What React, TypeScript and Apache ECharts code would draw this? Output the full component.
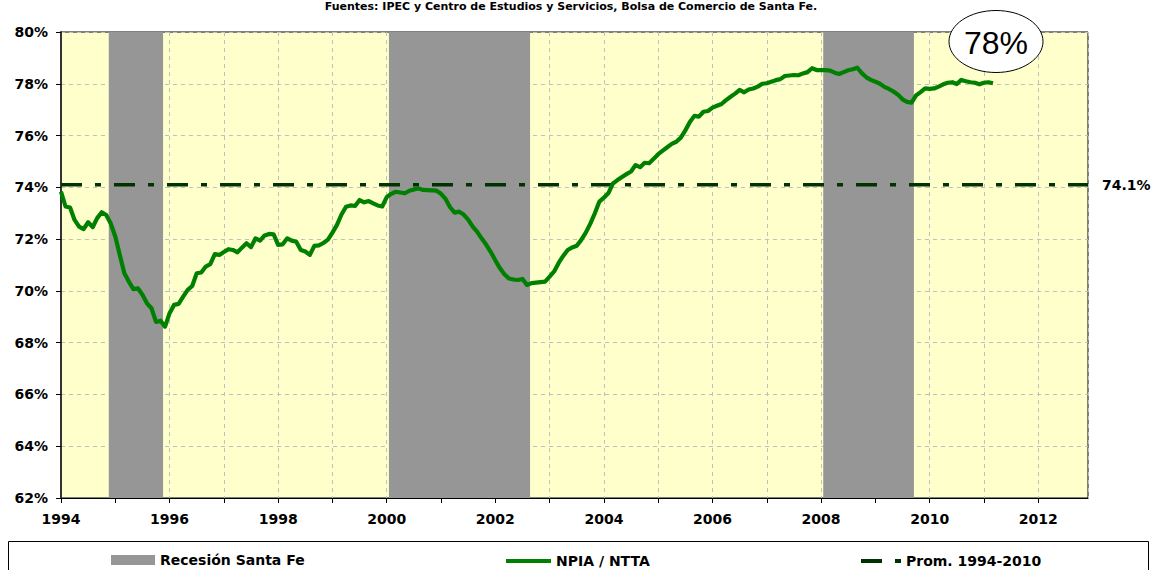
import React, { useEffect, useRef } from "react";
import * as echarts from "echarts";

// ---------- data ----------
const sourceNote =
  "Fuentes: IPEC y Centro de Estudios y Servicios, Bolsa de Comercio de Santa Fe.";
const seriesStartYear = 1994; // monthly series starting January 1994
const axisStartYear = 1994;
const axisEndYear = 1994 + 227 / 12; // December 2012
const yMin = 62;
const yMax = 80;
const yStep = 2;

const recessionStarts = [1994.88, 2000.04, 2008.04];
const recessionEnds = [1995.88, 2002.64, 2009.71];

const averageValue = 74.1;
const annotationText = "78%";

const npia1994 = [73.83, 73.26, 73.22, 72.74, 72.48, 72.39, 72.65, 72.46, 72.81, 73.04, 72.93, 72.6];
const npia1995 = [72.1, 71.39, 70.68, 70.36, 70.07, 70.1, 69.85, 69.52, 69.33, 68.8, 68.85, 68.62];
const npia1996 = [69.14, 69.46, 69.5, 69.78, 70.04, 70.19, 70.68, 70.71, 70.94, 71.03, 71.42, 71.39];
const npia1997 = [71.5, 71.61, 71.58, 71.49, 71.67, 71.84, 71.69, 72.03, 71.94, 72.14, 72.2, 72.18];
const npia1998 = [71.78, 71.8, 72.03, 71.94, 71.9, 71.58, 71.52, 71.39, 71.74, 71.76, 71.85, 71.98];
const npia1999 = [72.25, 72.55, 72.95, 73.25, 73.3, 73.28, 73.51, 73.42, 73.47, 73.38, 73.3, 73.26];
const npia2000 = [73.62, 73.75, 73.83, 73.8, 73.77, 73.87, 73.92, 73.96, 73.9, 73.89, 73.88, 73.87];
const npia2001 = [73.75, 73.55, 73.23, 73.02, 73.06, 72.95, 72.75, 72.48, 72.28, 72.02, 71.78, 71.5];
const npia2002 = [71.18, 70.88, 70.64, 70.48, 70.44, 70.42, 70.46, 70.23, 70.3, 70.32, 70.34, 70.36];
const npia2003 = [70.55, 70.75, 71.08, 71.35, 71.58, 71.68, 71.74, 71.97, 72.25, 72.6, 73.0, 73.45];
const npia2004 = [73.6, 73.78, 74.15, 74.28, 74.4, 74.51, 74.61, 74.86, 74.78, 74.95, 74.93, 75.1];
const npia2005 = [75.28, 75.42, 75.55, 75.68, 75.76, 75.92, 76.2, 76.52, 76.76, 76.73, 76.92, 76.95];
const npia2006 = [77.08, 77.15, 77.22, 77.37, 77.5, 77.62, 77.76, 77.67, 77.78, 77.82, 77.89, 78.0];
const npia2007 = [78.02, 78.08, 78.14, 78.18, 78.3, 78.32, 78.34, 78.33, 78.4, 78.45, 78.6, 78.53];
const npia2008 = [78.53, 78.53, 78.51, 78.43, 78.38, 78.45, 78.52, 78.56, 78.62, 78.41, 78.25, 78.15];
const npia2009 = [78.08, 78.0, 77.88, 77.8, 77.7, 77.58, 77.4, 77.3, 77.27, 77.55, 77.68, 77.82];
const npia2010 = [77.8, 77.82, 77.89, 77.98, 78.04, 78.06, 77.99, 78.15, 78.1, 78.06, 78.04, 77.98];
const npia2011 = [78.04, 78.06, 78.02];

const npiaValues = [
  ...npia1994, ...npia1995, ...npia1996, ...npia1997, ...npia1998, ...npia1999,
  ...npia2000, ...npia2001, ...npia2002, ...npia2003, ...npia2004, ...npia2005,
  ...npia2006, ...npia2007, ...npia2008, ...npia2009, ...npia2010, ...npia2011,
];

const seriesNames = ["Recesión Santa Fe", "NPIA / NTTA", "Prom. 1994-2010"];

// ---------- styles ----------
const FONT = "DejaVu Sans";
const GREEN = "#008000";
const DARK_GREEN = "#003300";
const GRAY = "#969696";

export default function App() {
  const ref = useRef<HTMLDivElement>(null);

  useEffect(() => {
    if (!ref.current) return;
    const chart = echarts.init(ref.current, null, { renderer: "svg" });

    const npiaData = npiaValues.map((v, i) => [seriesStartYear + i / 12, v]);
    const recessionAreas = recessionStarts.map((s, i) => [
      { xAxis: s },
      { xAxis: recessionEnds[i] },
    ]);

    const legendText = {
      fontFamily: FONT,
      fontWeight: "bold" as const,
      fontSize: 14,
      color: "#000",
    };

    const option: any = {
      animation: false,
      grid: {
        left: 61,
        top: 32,
        width: 1027,
        height: 466,
        show: true,
        backgroundColor: "#FFFFCC",
        borderColor: "#000",
        borderWidth: 1,
      },
      xAxis: {
        type: "value",
        min: axisStartYear,
        max: axisEndYear,
        interval: 1,
        axisLine: { show: true, onZero: false, lineStyle: { color: "#000", width: 1 } },
        axisTick: { show: true, inside: false, length: 5, lineStyle: { color: "#000" } },
        axisLabel: {
          show: true,
          margin: 14,
          showMaxLabel: false,
          fontFamily: FONT,
          fontWeight: "bold",
          fontSize: 14,
          color: "#000",
          formatter: (v: number) =>
            Math.abs(v - Math.round(v)) < 1e-6 && Math.round(v) % 2 === 0
              ? String(Math.round(v))
              : "",
        },
        splitLine: {
          show: true,
          lineStyle: { color: "#C0C0C0", type: [4, 4], width: 1 },
        },
      },
      yAxis: {
        type: "value",
        min: yMin,
        max: yMax,
        interval: yStep,
        axisLine: { show: true, lineStyle: { color: "#333", width: 2 } },
        axisTick: { show: true, inside: false, length: 5, lineStyle: { color: "#000" } },
        axisLabel: {
          margin: 13,
          fontFamily: FONT,
          fontWeight: "bold",
          fontSize: 14,
          color: "#000",
          formatter: "{value}%",
        },
        splitLine: {
          show: true,
          lineStyle: { color: "#C0C0C0", type: [4, 4], width: 1 },
        },
      },
      legend: [
        {
          data: [{ name: seriesNames[0], icon: "rect" }],
          left: 111,
          top: 553,
          padding: 0,
          itemWidth: 44,
          itemHeight: 10,
          selectedMode: false,
          textStyle: legendText,
        },
        {
          data: [{ name: seriesNames[1], icon: "rect" }],
          left: 506,
          top: 554,
          padding: 0,
          itemWidth: 45,
          itemHeight: 4,
          selectedMode: false,
          textStyle: legendText,
        },
        {
          data: [
            {
              name: seriesNames[2],
              icon: "path://M0,0H21V4H0Z M34,0H40V4H34Z",
            },
          ],
          left: 861,
          top: 554,
          padding: 0,
          itemWidth: 40,
          itemHeight: 4,
          selectedMode: false,
          textStyle: legendText,
        },
      ],
      series: [
        {
          name: seriesNames[0],
          type: "line",
          data: [],
          z: 1,
          itemStyle: { color: GRAY },
          lineStyle: { color: GRAY },
          markArea: {
            silent: true,
            itemStyle: { color: GRAY, opacity: 1 },
            label: { show: false },
            data: recessionAreas,
          },
        },
        {
          name: seriesNames[2],
          type: "line",
          z: 3,
          symbol: "none",
          data: [
            [axisStartYear, averageValue],
            [axisEndYear, averageValue],
          ],
          itemStyle: { color: DARK_GREEN },
          lineStyle: { color: DARK_GREEN, width: 3.5, type: [21, 13, 6, 13] },
        },
        {
          name: seriesNames[1],
          type: "line",
          z: 4,
          symbol: "none",
          data: npiaData,
          itemStyle: { color: GREEN },
          lineStyle: { color: GREEN, width: 4.2, join: "round" },
        },
      ],
      graphic: [
        {
          type: "text",
          x: 571,
          y: 1,
          z: 10,
          style: {
            text: sourceNote,
            fontFamily: FONT,
            fontWeight: "bold",
            fontSize: 11,
            fill: "#000",
            align: "center",
            verticalAlign: "top",
          },
        },
        {
          type: "text",
          x: 1102,
          y: 185,
          z: 10,
          style: {
            text: averageValue.toFixed(1) + "%",
            fontFamily: FONT,
            fontWeight: "bold",
            fontSize: 14,
            fill: "#000",
            align: "left",
            verticalAlign: "middle",
          },
        },
        {
          type: "ellipse",
          z: 20,
          shape: { cx: 996, cy: 41.5, rx: 47, ry: 31 },
          style: { fill: "#fff", stroke: "#000", lineWidth: 1 },
        },
        {
          type: "text",
          x: 996,
          y: 43,
          z: 21,
          style: {
            text: annotationText,
            fontFamily: "Liberation Sans",
            fontSize: 32,
            fill: "#000",
            align: "center",
            verticalAlign: "middle",
          },
        },
        {
          type: "rect",
          z: 0,
          shape: { x: 8.5, y: 541.5, width: 1140, height: 40 },
          style: { fill: "none", stroke: "#000", lineWidth: 1 },
        },
      ],
    };

    chart.setOption(option);
    return () => chart.dispose();
  }, []);

  return (
    <div
      ref={ref}
      style={{ position: "absolute", left: 0, top: 0, width: 1167, height: 570 }}
    />
  );
}
